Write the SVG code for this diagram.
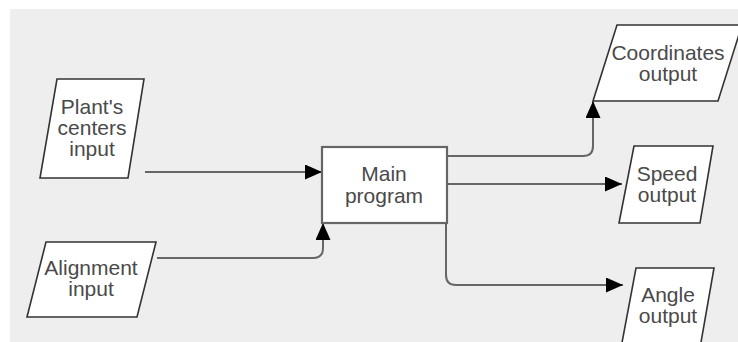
<svg xmlns="http://www.w3.org/2000/svg" width="738" height="342" viewBox="0 0 738 342">
<defs>
<style>
.bg{fill:#eeeeee}
.io{fill:#ffffff;stroke:#333333;stroke-width:1.6}
.box{fill:#ffffff;stroke:#666666;stroke-width:2.2}
.lbl{font-family:"Liberation Sans",Arial,sans-serif;font-size:21px;fill:#4a4a4a;text-anchor:middle}
.edge{fill:none;stroke:#666666;stroke-width:2;marker-end:url(#arr)}
</style>
<marker id="arr" markerUnits="userSpaceOnUse" markerWidth="18" markerHeight="16" refX="17" refY="7.5" orient="auto">
<path d="M0,0 L17,7.5 L0,15 Z" fill="#000000"/>
</marker>
</defs>
<rect class="bg" x="10" y="9" width="728" height="333"/>
<g id="connectors">
<path class="edge" d="M145,172 H322"/>
<path class="edge" d="M157,258 H313 Q323,258 323,248 V223"/>
<path class="edge" d="M447,156 H583 Q593,156 593,146 V101"/>
<path class="edge" d="M447,184 H622"/>
<path class="edge" d="M446,223 V275 Q446,285 456,285 H623"/>
</g>
<g id="plants-centers-input">
<polygon class="io" points="57,79 144,79 128,178 40,178"/>
<text class="lbl" x="92" y="114">Plant's</text>
<text class="lbl" x="92" y="135">centers</text>
<text class="lbl" x="92" y="156">input</text>
</g>
<g id="alignment-input">
<polygon class="io" points="46,242 156,242 137,317 27,317"/>
<text class="lbl" x="91" y="275">Alignment</text>
<text class="lbl" x="91" y="296">input</text>
</g>
<g id="main-program">
<rect class="box" x="322" y="147" width="125" height="76"/>
<text class="lbl" x="384" y="181">Main</text>
<text class="lbl" x="384" y="203">program</text>
</g>
<g id="coordinates-output">
<polygon class="io" points="617,25 742,25 718,101 593,101"/>
<text class="lbl" x="668" y="60">Coordinates</text>
<text class="lbl" x="668" y="81">output</text>
</g>
<g id="speed-output">
<polygon class="io" points="634,146 713,146 700,223 619,223"/>
<text class="lbl" x="667" y="181">Speed</text>
<text class="lbl" x="667" y="202">output</text>
</g>
<g id="angle-output">
<polygon class="io" points="636,268 714,268 700,348 621,348"/>
<text class="lbl" x="668" y="302">Angle</text>
<text class="lbl" x="668" y="323">output</text>
</g>
</svg>
